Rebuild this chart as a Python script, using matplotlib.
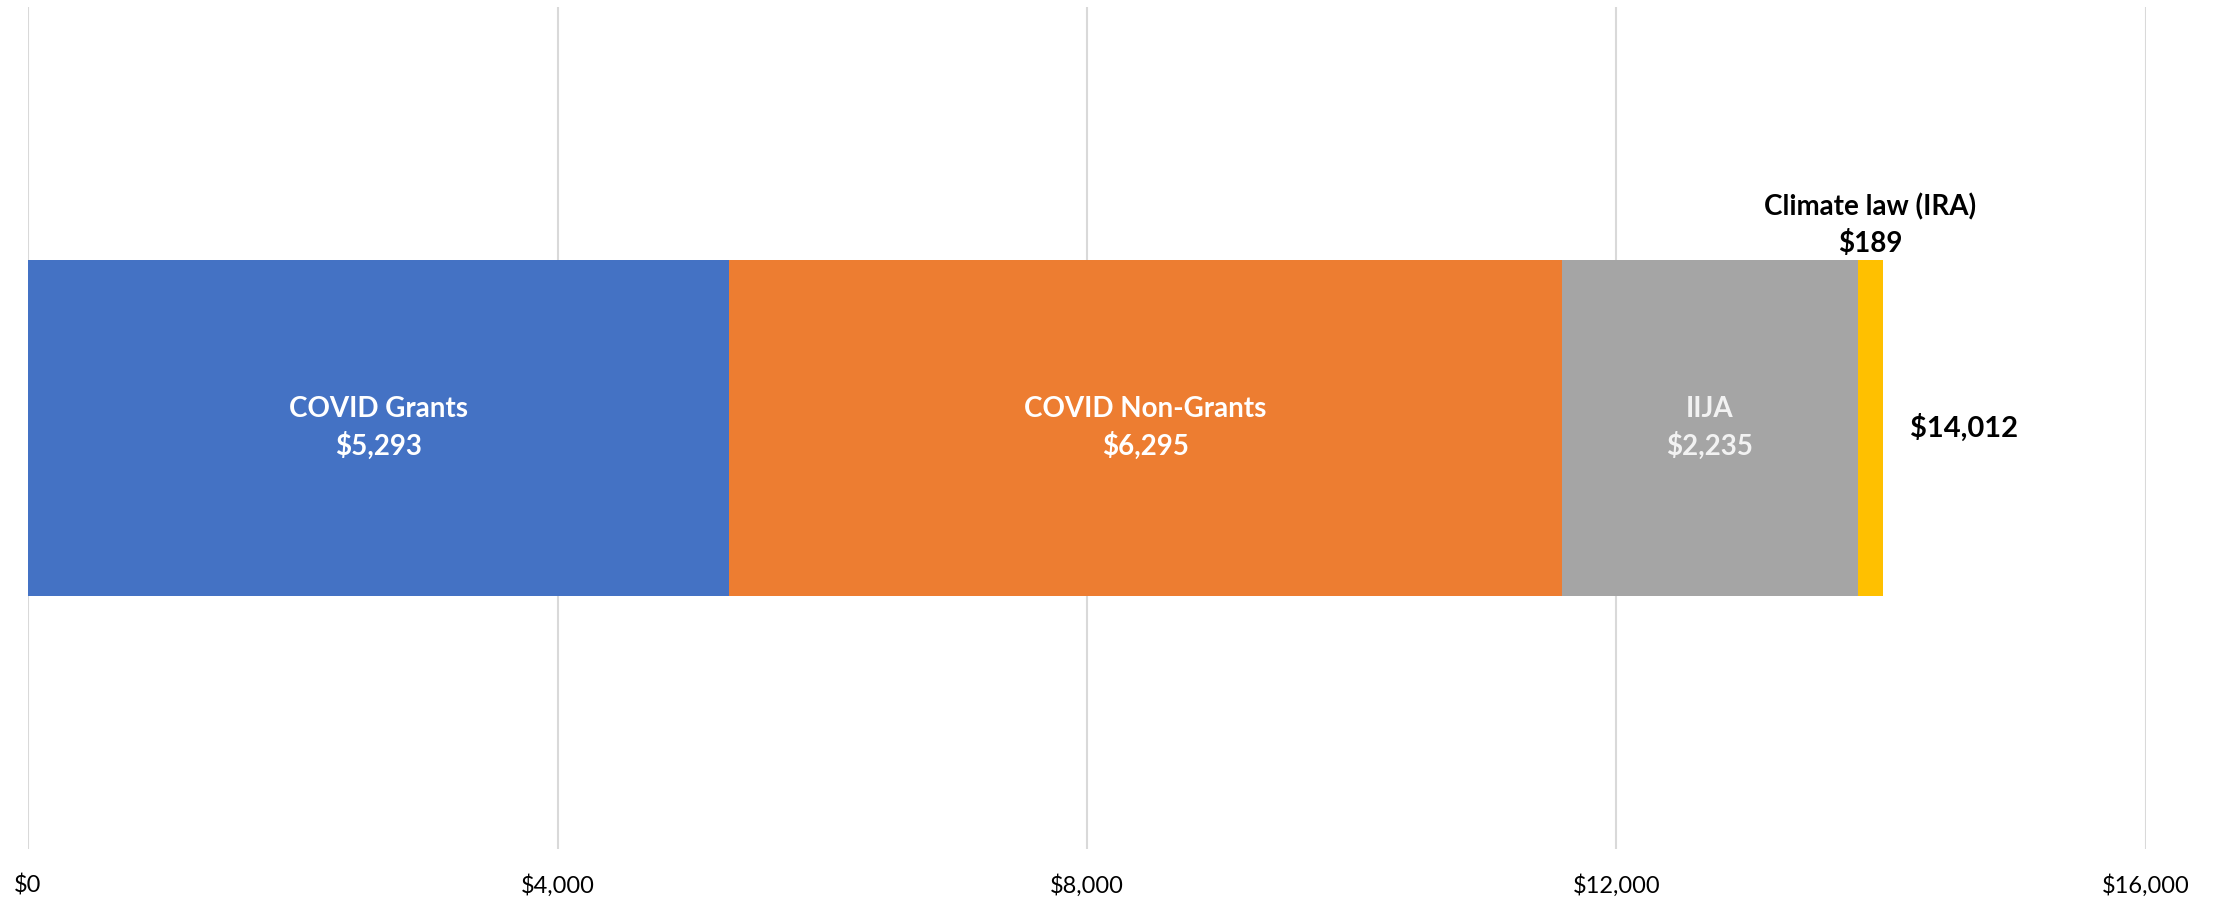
import matplotlib
matplotlib.use("Agg")
import matplotlib.pyplot as plt
from matplotlib.ticker import FuncFormatter

categories = ["COVID Grants", "COVID Non-Grants", "IIJA", "Climate law (IRA)"]
values = [5293, 6295, 2235, 189]
colors = ["#4472C4", "#ED7D31", "#A5A5A5", "#FFC000"]
text_colors = ["white", "white", "#F2F2F2", "black"]
total = 14012
xticks = [0, 4000, 8000, 12000, 16000]

plt.rcParams['font.family'] = ['Lato', 'DejaVu Sans']

fig = plt.figure(figsize=(22.16, 8.99), dpi=100)
ax = fig.add_axes([0.01264, 0.0556, 0.9684 - 0.01264, 0.9922 - 0.0556])

left = 0
for cat, v, c, tc in zip(categories, values, colors, text_colors):
    ax.barh(0, v, left=left, height=0.4, color=c, zorder=2)
    center = left + v / 2
    if v > 1000:
        ax.text(center, 0, f"{cat}\n${v:,}", ha="center", va="center",
                color=tc, fontsize=20, fontweight="bold", linespacing=1.42, zorder=3)
    else:
        ax.annotate(f"{cat}\n${v:,}", xy=(center, 0.2), xytext=(0, 3),
                    textcoords="offset pixels", ha="center", va="bottom",
                    color=tc, fontsize=20, fontweight="bold", linespacing=1.42, zorder=3)
    left += v

ax.annotate(f"${total:,}", xy=(left, 0), xytext=(27, 0), textcoords="offset pixels",
            ha="left", va="center", fontsize=21, fontweight="bold", color="black")

ax.set_xlim(0, 16000)
ax.set_ylim(-0.5, 0.5)
ax.set_xticks(xticks)
ax.xaxis.set_major_formatter(FuncFormatter(lambda x, p: f"${x:,.0f}"))
ax.set_yticks([])
ax.grid(axis="x", color="#D9D9D9", linewidth=1.5, zorder=0)
for s in ax.spines.values():
    s.set_visible(False)
ax.tick_params(axis="x", length=0, pad=18, labelsize=17, labelcolor="black")

fig.savefig("out.png", dpi=100)
